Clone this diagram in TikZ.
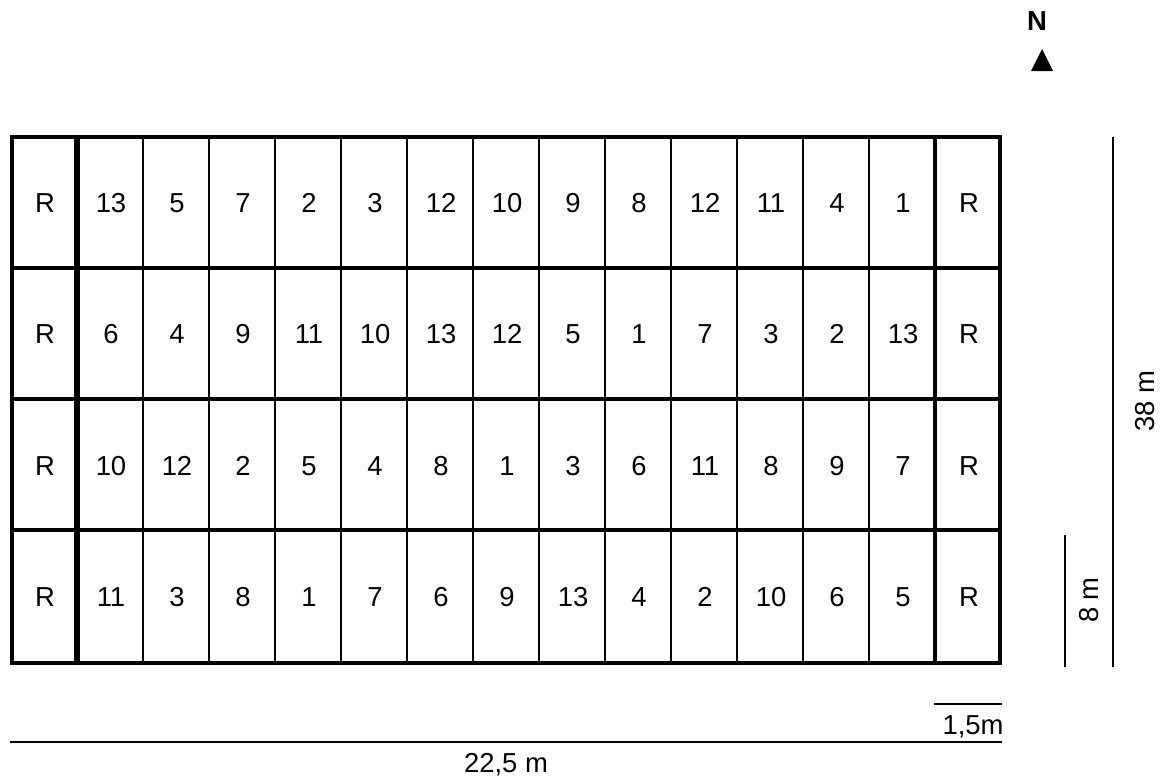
\documentclass[tikz,border=0pt]{standalone}
\usepackage{fontspec}
\setmainfont{Liberation Sans}
\begin{document}
\begin{tikzpicture}[x=0.025cm,y=-0.025cm,
    lbl/.style={font=\fontsize{19.5}{22}\selectfont,inner sep=0pt,text height=14pt,text depth=0pt},
    thinline/.style={line width=1pt},
    thickline/.style={line width=2.6pt}]
    \useasboundingbox (0,0) rectangle (1162,778);

    % plots, thin dividers first
    \foreach \k in {0,...,11}
        \draw[thinline] ({143+66*\k},137) -- ({143+66*\k},663);
    \foreach \yy in {268,399,530}
        \draw[line width=3pt] (12,\yy) -- (1000,\yy);
    \draw[thickline] (12,137) rectangle (1000,663);
    \draw[line width=4.3pt] (77,137) -- (77,663);
    \draw[line width=3pt] (935,137) -- (935,663);

    % treatment numbers
    \foreach [count=\i from 0] \row in {
        {R,13,5,7,2,3,12,10,9,8,12,11,4,1,R},
        {R,6,4,9,11,10,13,12,5,1,7,3,2,13,R},
        {R,10,12,2,5,4,8,1,3,6,11,8,9,7,R},
        {R,11,3,8,1,7,6,9,13,4,2,10,6,5,R}} {
        \foreach [count=\j from 0] \v in \row
            \node[lbl] (cell-\i-\j) at ({45+66*\j},{202.5+131.5*\i}) {\v};
    }

    % north
    \node[lbl,font=\fontsize{19.5}{22}\selectfont\bfseries] (north) at (1037,21) {N};
    \fill (1031,71) -- (1053,71) -- (1042,49) -- cycle;

    % scales
    \draw[thinline] (934,704) -- (1002,704);
    \node[lbl] (plotw) at (973,725) {1,5m};
    \draw[thinline] (10,742) -- (1002,742);
    \node[lbl] (fieldw) at (506,763) {22,5 m};
    \draw[thinline] (1065,535) -- (1065,667);
    \node[lbl,rotate=90] (ploth) at (1089,600) {8 m};
    \draw[thinline] (1113,137) -- (1113,667);
    \node[lbl,rotate=90] (fieldh) at (1145,401) {38 m};
\end{tikzpicture}
\end{document}
